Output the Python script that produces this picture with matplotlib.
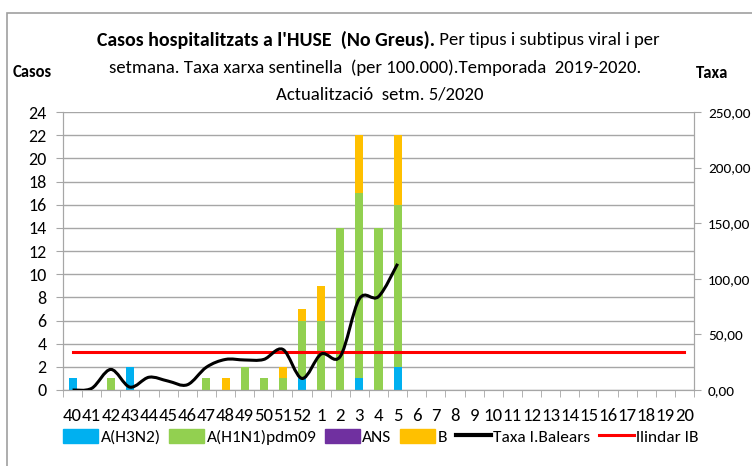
import numpy as np
import matplotlib
matplotlib.use("Agg")
import matplotlib.pyplot as plt
from matplotlib.path import Path
from matplotlib.patches import PathPatch, Patch, Rectangle
from matplotlib.lines import Line2D

plt.rcParams['font.family'] = ['Carlito', 'DejaVu Sans']

# weeks of the season (x categories)
weeks = ['40', '41', '42', '43', '44', '45', '46', '47', '48', '49', '50', '51', '52',
         '1', '2', '3', '4', '5', '6', '7', '8', '9', '10', '11', '12', '13', '14',
         '15', '16', '17', '18', '19', '20']

# cases per week, weeks 40..5
h3n2 = [1, 0, 0, 2, 0, 0, 0, 0, 0, 0, 0, 0, 1, 0, 0, 1, 0, 2]
h1n1 = [0, 0, 1, 0, 0, 0, 0, 1, 0, 2, 1, 1, 5, 6, 14, 16, 14, 14]
ans = [0, 0, 0, 0, 0, 0, 0, 0, 0, 0, 0, 0, 0, 0, 0, 0, 0, 0]
flu_b = [0, 0, 0, 0, 0, 0, 0, 0, 1, 0, 0, 1, 1, 3, 0, 5, 0, 6]

# sentinel rate per 100.000
taxa = [0.0, 1.5, 18.5, 2.6, 11.5, 8.0, 4.7, 20.5, 27.5, 27.0, 27.5, 36.5,
        10.4, 32.3, 30.2, 82.0, 84.0, 113.5]
llindar = 34.4

c_h3 = '#00B0F0'
c_h1 = '#92D050'
c_ans = '#7030A0'
c_b = '#FFC000'
grid_c = '#A6A6A6'

fig = plt.figure(figsize=(7.52, 4.66), dpi=100)
ax = fig.add_axes([63 / 752, 1 - 390 / 466, (694 - 63) / 752, (390 - 112) / 466])
ax2 = ax.twinx()

x = np.arange(len(h3n2))
w = 0.42
b1 = np.array(h3n2)
b2 = b1 + np.array(h1n1)
b3 = b2 + np.array(ans)
ax.bar(x, h3n2, w, color=c_h3, zorder=2)
ax.bar(x, h1n1, w, bottom=b1, color=c_h1, zorder=2)
ax.bar(x, ans, w, bottom=b2, color=c_ans, zorder=2)
ax.bar(x, flu_b, w, bottom=b3, color=c_b, zorder=2)

ax.set_xlim(-0.5, len(weeks) - 0.5)
ax.set_ylim(0, 24)
ax.set_yticks(range(0, 25, 2))
ax.set_xticks(range(len(weeks)))
ax.set_xticklabels(weeks)
ax.set_xticks(np.arange(-0.5, len(weeks)), minor=True)
ax.tick_params(axis='x', which='major', length=0, pad=13, labelsize=13.5)
ax.tick_params(axis='x', which='minor', length=5, color=grid_c, direction='out')
ax.tick_params(axis='y', length=5, color=grid_c, labelsize=13, pad=7)
ax.yaxis.grid(True, color=grid_c, lw=1)
ax.set_axisbelow(True)

# smoothed rate line (bezier through the weekly points)
px = x.astype(float)
py = np.array(taxa)
verts = [(px[0], py[0])]
codes = [Path.MOVETO]
n = len(px)
for i in range(n - 1):
    p0 = (px[max(i - 1, 0)], py[max(i - 1, 0)])
    p1 = (px[i], py[i])
    p2 = (px[i + 1], py[i + 1])
    p3 = (px[min(i + 2, n - 1)], py[min(i + 2, n - 1)])
    c1 = (p1[0] + (p2[0] - p0[0]) / 6, p1[1] + (p2[1] - p0[1]) / 6)
    c2 = (p2[0] - (p3[0] - p1[0]) / 6, p2[1] - (p3[1] - p1[1]) / 6)
    verts += [c1, c2, p2]
    codes += [Path.CURVE4] * 3
ax2.add_patch(PathPatch(Path(verts, codes), fill=False, color='black', lw=2.2, zorder=4))
ax2.plot([0, len(weeks) - 1], [llindar, llindar], color='#FF0000', lw=2.2, zorder=3)

ax2.set_ylim(0, 250)
ax2.set_yticks(range(0, 251, 50))
ax2.set_yticklabels(['%d,00' % v for v in range(0, 251, 50)])
ax2.tick_params(axis='y', length=5, color=grid_c, labelsize=11, pad=5)

for a in (ax, ax2):
    a.spines['top'].set_visible(False)
    for s in ('left', 'right', 'bottom'):
        a.spines[s].set_color(grid_c)

# outer chart frame
fig.patches.append(Rectangle((7 / 752, -0.05), 1.1, 1 - 12.7 / 466 + 0.05,
                             transform=fig.transFigure, fill=False,
                             edgecolor='#A0A0A0', lw=1.2))

# title, bold part then normal part on the first line
fs = 13.5
t1 = fig.text(0, 1 - 40 / 466, "Casos hospitalitzats a l'HUSE  (No Greus).",
              fontsize=14.3, fontweight='bold', va='center', ha='left')
t2 = fig.text(0, 1 - 40 / 466, " Per tipus i subtipus viral i per",
              fontsize=fs, va='center', ha='left')
fig.canvas.draw()
r = fig.canvas.get_renderer()
w1 = t1.get_window_extent(r).width
w2 = t2.get_window_extent(r).width
start = 378 - (w1 + w2) / 2
t1.set_x(start / 752)
t2.set_x((start + w1) / 752)
fig.text(375 / 752, 1 - 68 / 466,
         "setmana. Taxa xarxa sentinella  (per 100.000).Temporada  2019-2020.",
         fontsize=fs, ha='center', va='center')
fig.text(380 / 752, 1 - 95 / 466, "Actualització  setm. 5/2020",
         fontsize=fs, ha='center', va='center')
fig.text(32 / 752, 1 - 72 / 466, "Casos", fontsize=12, fontweight='bold',
         ha='center', va='center')
fig.text(712 / 752, 1 - 73 / 466, "Taxa", fontsize=12, fontweight='bold',
         ha='center', va='center')

handles = [Patch(color=c_h3), Patch(color=c_h1), Patch(color=c_ans), Patch(color=c_b),
           Line2D([], [], color='black', lw=3), Line2D([], [], color='#FF0000', lw=2.2)]
labels = ['A(H3N2)', 'A(H1N1)pdm09', 'ANS', 'B', 'Taxa I.Balears', 'llindar IB']
fig.legend(handles, labels, loc='center', bbox_to_anchor=(381 / 752, 1 - 437 / 466),
           ncol=6, frameon=False, fontsize=12.5, handlelength=2.0, handleheight=0.9,
           handletextpad=0.15, columnspacing=0.5, borderaxespad=0)

fig.savefig('out.png', dpi=100)
